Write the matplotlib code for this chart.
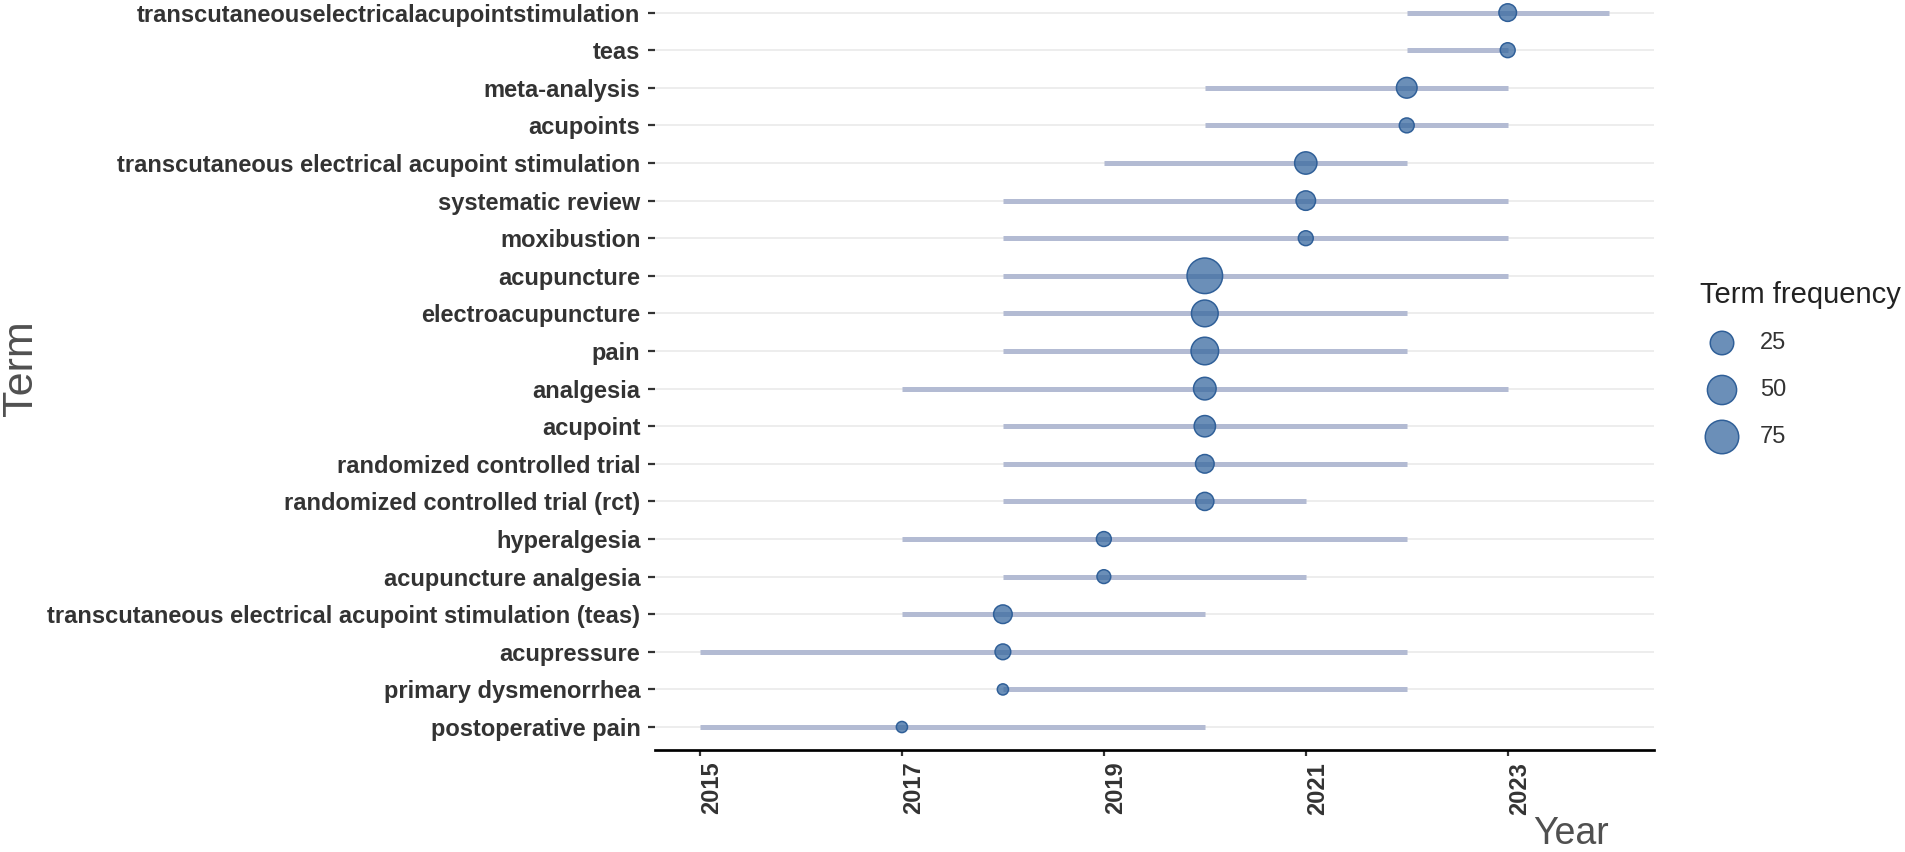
import numpy as np
import matplotlib
matplotlib.use("Agg")
import matplotlib.pyplot as plt

plt.rcParams['font.family'] = ['Liberation Sans', 'DejaVu Sans']

# terms from top to bottom
terms = ["transcutaneouselectricalacupointstimulation", "teas", "meta-analysis",
         "acupoints", "transcutaneous electrical acupoint stimulation",
         "systematic review", "moxibustion", "acupuncture", "electroacupuncture",
         "pain", "analgesia", "acupoint", "randomized controlled trial",
         "randomized controlled trial (rct)", "hyperalgesia", "acupuncture analgesia",
         "transcutaneous electrical acupoint stimulation (teas)", "acupressure",
         "primary dysmenorrhea", "postoperative pain"]
year_start = [2022, 2022, 2020, 2020, 2019, 2018, 2018, 2018, 2018, 2018,
              2017, 2018, 2018, 2018, 2017, 2018, 2017, 2015, 2018, 2015]
year_med = [2023, 2023, 2022, 2022, 2021, 2021, 2021, 2020, 2020, 2020,
            2020, 2020, 2020, 2020, 2019, 2019, 2018, 2018, 2018, 2017]
year_end = [2024, 2023, 2023, 2023, 2022, 2023, 2023, 2023, 2022, 2022,
            2023, 2022, 2022, 2021, 2022, 2021, 2020, 2022, 2022, 2020]
freq = [9, 5, 16, 5, 21, 13, 5, 89, 38, 42, 22, 18, 11, 10, 5, 4, 11, 6, 3, 3]

x_ticks = [2015, 2017, 2019, 2021, 2023]
legend_vals = [25, 50, 75]

DPI = 100
EDGE_PX = 1.5


def marker_area(v):
    # diameter in pixels grows with sqrt of the frequency (like ggplot scale_size)
    d = 12.66 + 2.63 * np.sqrt(np.maximum(np.asarray(v, dtype=float) - 3, 0))
    return ((d - EDGE_PX) * 72 / DPI) ** 2


fill = (58 / 255, 106 / 255, 160 / 255, 0.75)
edge = '#2f5f98'
txt = '#333333'

fig = plt.figure(figsize=(19.05, 8.52), dpi=DPI)
ax = fig.add_axes([0.3436, 0.1202, 0.5247, 0.8915])

n = len(terms)
ypos = np.arange(n, 0, -1)

ax.hlines(ypos, year_start, year_end, colors='#b3bbd3', linewidth=3.6,
          capstyle='butt', zorder=2)
ax.scatter(year_med, ypos, s=marker_area(freq), facecolor=fill, edgecolor=edge,
           linewidths=EDGE_PX * 72 / DPI, zorder=3, clip_on=False)

ax.set_xlim(2014.55, 2024.45)
ax.set_ylim(0.4, n + 0.6)
ax.set_yticks(ypos)
ax.set_yticklabels(terms, fontsize=17, fontweight='bold', color=txt)
ax.set_xticks(x_ticks)
ax.set_xticklabels([str(t) for t in x_ticks], fontsize=17, fontweight='bold',
                   color=txt, rotation=90, ha='left')
ax.grid(axis='y', color='#ededed', linewidth=1.4)
ax.set_axisbelow(True)

for s in ['top', 'right', 'left']:
    ax.spines[s].set_visible(False)
ax.spines['bottom'].set_linewidth(1.95)
ax.spines['bottom'].set_color('black')
ax.tick_params(axis='y', length=4.7, width=1.6, color=txt, pad=5.5)
ax.tick_params(axis='x', length=4.0, width=1.6, color=txt, pad=4.8)

# axis titles
fig.text(32 / 1905, (852 - 368) / 852, 'Term', rotation=90, fontsize=31,
         color='#505050', ha='center', va='baseline', rotation_mode='anchor')
fig.text(1533 / 1905, 0.5 / 852, 'Year', fontsize=27, color='#505050',
         ha='left', va='bottom')

# size legend
fig.text(1700 / 1905, (852 - 303) / 852, 'Term frequency', fontsize=21,
         color='#222222', ha='left', va='baseline')
lax = fig.add_axes([1700 / 1905, (852 - 460.5) / 852, 200 / 1905, 141 / 852])
lax.set_xlim(0, 200)
lax.set_ylim(len(legend_vals) - 0.5, -0.5)
lax.axis('off')
lpos = np.arange(len(legend_vals))
lax.scatter(np.full(len(legend_vals), 22), lpos, s=marker_area(legend_vals),
            facecolor=fill, edgecolor=edge, linewidths=EDGE_PX * 72 / DPI,
            clip_on=False)
for i, v in zip(lpos, legend_vals):
    lax.text(60, i, str(v), fontsize=17, color=txt, ha='left', va='center')

fig.savefig('out.png', dpi=DPI)
